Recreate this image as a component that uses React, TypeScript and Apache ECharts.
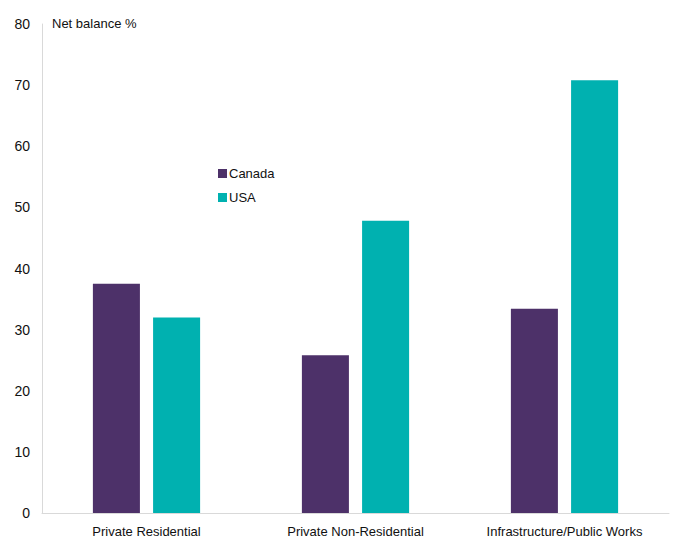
import React, { useEffect, useRef } from "react";
import * as echarts from "echarts";

const categories = ["Private Residential", "Private Non-Residential", "Infrastructure/Public Works"];
const canadaValues = [37.5, 25.8, 33.4];
const usaValues = [32.0, 47.8, 70.8];
const yTicks = [0, 10, 20, 30, 40, 50, 60, 70, 80];

const FONT = "'Liberation Sans', Arial, sans-serif";

export default function App() {
  const ref = useRef<HTMLDivElement>(null);
  useEffect(() => {
    document.body.style.margin = "0";
    if (!ref.current) return;
    const chart = echarts.init(ref.current, undefined, { renderer: "svg" });
    chart.setOption({
      animation: false,
      textStyle: { fontFamily: FONT },
      grid: { left: 42, right: 8, top: 24, bottom: 28, containLabel: false },
      legend: {
        orient: "vertical",
        left: 213,
        top: 162,
        itemWidth: 9,
        itemHeight: 9,
        itemGap: 11,
        icon: "rect",
        textStyle: { fontSize: 13, color: "#111111", fontFamily: FONT, padding: [0, 0, 0, -3] },
        data: ["Canada", "USA"],
      },
      graphic: [
        {
          type: "text",
          left: 52,
          top: 17,
          style: { text: "Net balance %", fontSize: 13, fill: "#111111", fontFamily: FONT },
        },
      ],
      xAxis: {
        type: "category",
        data: categories,
        axisLine: { show: true, lineStyle: { color: "#d9d9d9", width: 1 } },
        axisTick: { show: false },
        axisLabel: { color: "#111111", fontSize: 13, margin: 12, fontFamily: FONT },
      },
      yAxis: {
        type: "value",
        min: yTicks[0],
        max: yTicks[yTicks.length - 1],
        interval: 10,
        axisLine: { show: true, lineStyle: { color: "#d9d9d9", width: 1 } },
        axisTick: { show: false },
        splitLine: { show: false },
        axisLabel: { color: "#111111", fontSize: 14, margin: 12, fontFamily: FONT },
      },
      series: [
        {
          name: "Canada",
          type: "bar",
          data: canadaValues,
          barWidth: "22.5%",
          barGap: "28%",
          itemStyle: { color: "#4d3169" },
        },
        {
          name: "USA",
          type: "bar",
          data: usaValues,
          barWidth: "22.5%",
          barGap: "28%",
          itemStyle: { color: "#00b1b0" },
        },
      ],
    });
    return () => chart.dispose();
  }, []);
  return <div ref={ref} style={{ width: 677, height: 541 }} />;
}
